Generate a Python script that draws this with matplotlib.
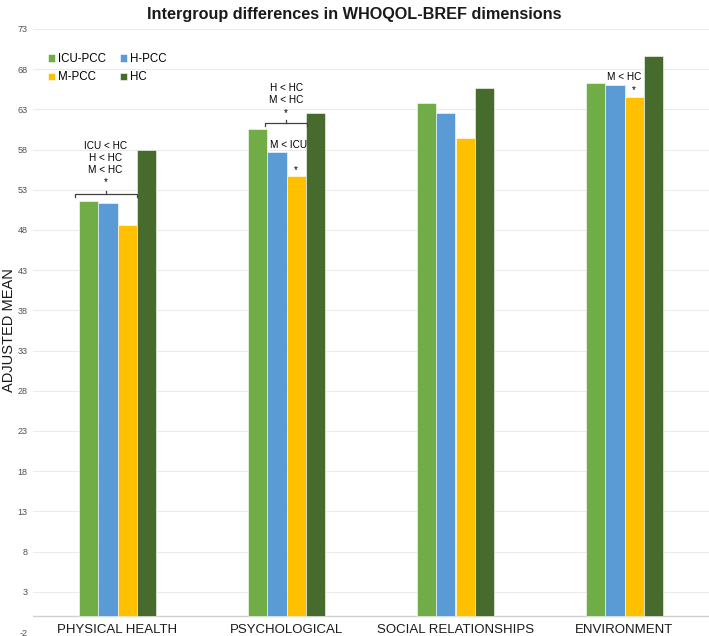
import matplotlib
matplotlib.use("Agg")
import matplotlib.pyplot as plt
import numpy as np

plt.rcParams['font.family'] = ['Liberation Sans', 'DejaVu Sans']

categories = ["PHYSICAL HEALTH", "PSYCHOLOGICAL", "SOCIAL RELATIONSHIPS", "ENVIRONMENT"]
series_names = ["ICU-PCC", "H-PCC", "M-PCC", "HC"]
icu_pcc = [51.6, 60.5, 63.8, 66.3]
h_pcc = [51.4, 57.7, 62.6, 66.0]
m_pcc = [48.6, 54.7, 59.5, 64.5]
hc = [58.0, 62.6, 65.7, 69.7]
colors = ["#70ad47", "#5b9bd5", "#ffc000", "#476b2d"]
yticks = list(range(-2, 74, 5))

fig = plt.figure(figsize=(7.09, 6.36), dpi=100)
ax = fig.add_axes([33/709, 4/636, 676/709, 603/636])
ax.set_xlim(-0.5, 3.5)
ax.set_ylim(-2, 73)

x = np.arange(len(categories))
bw = 0.115
all_series = [icu_pcc, h_pcc, m_pcc, hc]
handles = []
for k, (vals, name, c) in enumerate(zip(all_series, series_names, colors)):
    b = ax.bar(x + (k - 1.5) * bw, vals, width=bw, color=c, label=name,
               edgecolor='white', linewidth=0.4, zorder=3)
    handles.append(b)

ax.set_yticks(yticks)
ax.set_yticklabels([str(t) for t in yticks], fontsize=6.5, color='#505050')
ax.tick_params(axis='y', length=0, pad=4)
ax.set_xticks([])
ax.grid(axis='y', color='#ececec', linewidth=0.8, zorder=0)
ax.axhline(0, color='#d0d0d0', linewidth=1.0, zorder=2)
for s in ax.spines.values():
    s.set_visible(False)

for i, cat in enumerate(categories):
    ax.text(i, -1.8, cat, ha='center', va='center', fontsize=9.5, color='#1a1a1a')

fig.text(9/709, 1 - 330/636, "ADJUSTED MEAN", rotation=90, ha='center', va='center',
         fontsize=10.5, color='#1a1a1a')
fig.text(0.5, 1 - 14/636, "Intergroup differences in WHOQOL-BREF dimensions",
         ha='center', va='center', fontsize=11.7, fontweight='bold', color='#1a1a1a')

order = [0, 2, 1, 3]
leg = ax.legend([handles[i] for i in order], [series_names[i] for i in order],
                ncol=2, loc='upper left', bbox_to_anchor=(0.015, 0.968), frameon=False,
                fontsize=8.3, handlelength=0.6, handleheight=0.6, handletextpad=0.3,
                columnspacing=1.2, labelspacing=0.55, borderaxespad=0)

def bracket(ax, x0, x1, y, up=0.35, down=0.35):
    xc = (x0 + x1) / 2
    ax.plot([x0, x0, x1, x1], [y - down, y, y, y - down], color='#404040', lw=0.9, zorder=4)
    ax.plot([xc, xc], [y, y + up], color='#404040', lw=0.9, zorder=4)

fs = 7.2
# Physical health
bracket(ax, -0.25, 0.115, 52.5)
ax.text(-0.07, 53.9, "*", ha='center', va='center', fontsize=fs)
ax.text(-0.07, 58.5, "ICU < HC", ha='center', va='center', fontsize=fs)
ax.text(-0.07, 57.0, "H < HC", ha='center', va='center', fontsize=fs)
ax.text(-0.07, 55.5, "M < HC", ha='center', va='center', fontsize=fs)
# Psychological
bracket(ax, 1 - 0.13, 1 + 0.12, 61.3)
ax.text(0.995, 62.55, "*", ha='center', va='center', fontsize=fs)
ax.text(1.0, 65.7, "H < HC", ha='center', va='center', fontsize=fs)
ax.text(1.0, 64.2, "M < HC", ha='center', va='center', fontsize=fs)
ax.text(1.01, 58.6, "M < ICU", ha='center', va='center', fontsize=fs)
ax.text(1.0575, 55.5, "*", ha='center', va='center', fontsize=fs)
# Environment
ax.text(3.0, 67.0, "M < HC", ha='center', va='center', fontsize=fs)
ax.text(3.0575, 65.4, "*", ha='center', va='center', fontsize=fs)

fig.savefig("out.png", dpi=100)
